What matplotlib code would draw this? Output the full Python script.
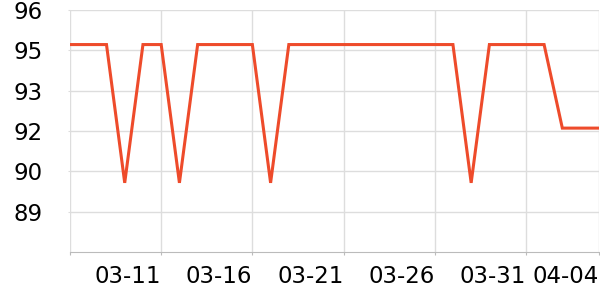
import matplotlib
matplotlib.use("Agg")
import matplotlib.pyplot as plt
import matplotlib.transforms as mtransforms
import pandas as pd

# Daily values, 03-06 .. 04-04
dates = pd.date_range("2024-03-06", "2024-04-04", freq="D")
values = [94.8, 94.8, 94.8, 90.0, 94.8, 94.8, 90.0, 94.8, 94.8, 94.8,
          94.8, 90.0, 94.8, 94.8, 94.8, 94.8, 94.8, 94.8, 94.8, 94.8,
          94.8, 94.8, 90.0, 94.8, 94.8, 94.8, 94.8, 91.9, 91.9, 91.9]

y_ticks = [89.0, 90.4, 91.8, 93.2, 94.6, 96.0]
y_labels = ["89", "90", "92", "93", "95", "96"]
x_tick_dates = ["03-06", "03-11", "03-16", "03-21", "03-26", "03-31", "04-04"]
x_labels = ["", "03-11", "03-16", "03-21", "03-26", "03-31", "04-04"]

fig = plt.figure(figsize=(6, 3), dpi=100)
ax = fig.add_axes([0.1167, 0.16, 0.8813, 0.8067])

x = list(range(len(dates)))
ax.plot(x, values, color="#ee4b2b", linewidth=2.2, solid_joinstyle="miter")

ax.set_xlim(0, len(dates) - 1)
ax.set_ylim(87.6, 96.0)

labels_md = [d.strftime("%m-%d") for d in dates]
xt = [labels_md.index(d) for d in x_tick_dates]
ax.set_xticks(xt)
ax.set_xticklabels(x_labels, ha="right", fontsize=16.5)
ax.set_yticks(y_ticks)
ax.set_yticklabels(y_labels, fontsize=16.5)

# nudge x labels a little to the left of their ticks
shift = mtransforms.ScaledTranslation(-2 / 100, 0, fig.dpi_scale_trans)
for lab in ax.get_xticklabels():
    lab.set_transform(lab.get_transform() + shift)

ax.grid(True, color="#dddddd", linewidth=1)
ax.set_axisbelow(True)
for s in ["top", "right", "left"]:
    ax.spines[s].set_visible(False)
ax.spines["bottom"].set_color("#bbbbbb")
ax.tick_params(axis="x", length=2.5, color="#bbbbbb", pad=7)
ax.tick_params(axis="y", length=1.5, color="#dddddd", pad=18)

fig.savefig("out.png", dpi=100)
